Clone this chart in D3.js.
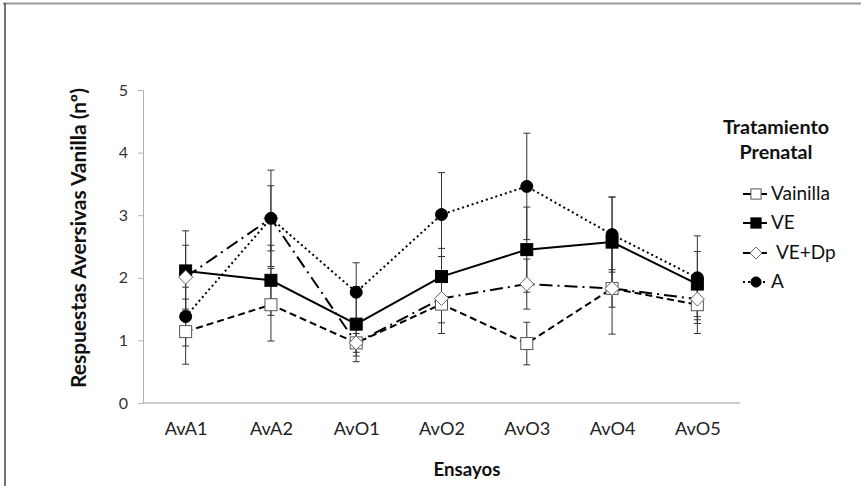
<!DOCTYPE html>
<html><head><meta charset="utf-8">
<script src="https://cdn.jsdelivr.net/npm/d3@7"></script>
<style>body{margin:0;background:#fff}svg{display:block}</style>
</head><body>
<script>
const categories = ["AvA1","AvA2","AvO1","AvO2","AvO3","AvO4","AvO5"];
const seriesNames = ["Vainilla","VE","VE+Dp","A"];
const vainilla = [1.14,1.57,0.96,1.58,0.95,1.83,1.57];
const vainillaErr = [0.52,0.58,0.15,0.47,0.34,0.73,0.46];
const ve = [2.11,1.96,1.26,2.02,2.45,2.57,1.90];
const veErr = [0.64,0.56,0.60,0.45,0.68,0.72,0.52];
const veDp = [2.01,2.95,0.96,1.67,1.90,1.83,1.66];
const veDpErr = [0.51,0.52,0.21,0.39,0.40,0.30,0.39];
const a = [1.38,2.95,1.77,3.01,3.46,2.69,2.00];
const aErr = [0.47,0.77,0.47,0.67,0.85,0.60,0.67];
const yTicks = [0,1,2,3,4,5];

const W=861,H=486;
const svg=d3.select("body").append("svg").attr("width",W).attr("height",H);
const font="Lato, 'Open Sans', sans-serif";

function fit(sel,target){
  const n=sel.node(); const fs=parseFloat(sel.attr("font-size"));
  const w=n.getComputedTextLength(); if(w>0) sel.attr("font-size",(fs*target/w).toFixed(2));
  return sel;
}

// frame
svg.append("line").attr("x1",3).attr("x2",W).attr("y1",3.5).attr("y2",3.5).attr("stroke","#9a9a9a").attr("stroke-width",2);
svg.append("line").attr("x1",5).attr("x2",5).attr("y1",3).attr("y2",H).attr("stroke","#444").attr("stroke-width",1.5);

const x=d3.scalePoint().domain(categories).range([143,740]).padding(0.5);
const y=d3.scaleLinear().domain([0,5]).range([403,90]);

// y axis
const yAxis=svg.append("g").attr("transform","translate(143,0)")
  .call(d3.axisLeft(y).tickValues(yTicks).tickSize(5).tickPadding(10).tickFormat(d3.format("d")));
yAxis.select(".domain").attr("stroke","#b0b0b0");
yAxis.selectAll(".tick line").attr("stroke","#b0b0b0");
yAxis.selectAll("text").attr("font-family",font).attr("font-size",16).attr("fill","#333");

// x axis
const xAxis=svg.append("g").attr("transform","translate(0,403)")
  .call(d3.axisBottom(x).tickSize(0).tickPadding(19).tickSizeOuter(0));
xAxis.select(".domain").attr("stroke","#c0c0c0").attr("stroke-width",1.5)
  .attr("d","M143,0H740");
xAxis.selectAll("text").attr("font-family",font).attr("font-size",17).attr("fill","#222");
fit(xAxis.select(".tick text"),43);
const cfs=xAxis.select(".tick text").attr("font-size");
xAxis.selectAll("text").attr("font-size",cfs);

// axis titles
fit(svg.append("text").attr("transform","translate(86,238) rotate(-90)").attr("text-anchor","middle")
  .attr("font-family",font).attr("font-weight","bold").attr("font-size",17).attr("fill","#111")
  .text("Respuestas Aversivas Vanilla (nº)"),300);
fit(svg.append("text").attr("x",467).attr("y",476).attr("text-anchor","middle")
  .attr("font-family",font).attr("font-weight","bold").attr("font-size",17).attr("fill","#111")
  .text("Ensayos"),67);

const series=[
  {name:"Vainilla",vals:vainilla,err:vainillaErr,dash:"7,4",shape:"square",fill:"#fff",mstroke:"#555"},
  {name:"VE",vals:ve,err:veErr,dash:null,shape:"square",fill:"#000",mstroke:"#000"},
  {name:"VE+Dp",vals:veDp,err:veDpErr,dash:"13,5,2,5",shape:"diamond",fill:"#fff",mstroke:"#666"},
  {name:"A",vals:a,err:aErr,dash:"2,3",shape:"circle",fill:"#000",mstroke:"#000"}
];

// error bars
series.forEach(s=>{
  const g=svg.append("g");
  categories.forEach((c,i)=>{
    const cx=x(c),lo=y(s.vals[i]-s.err[i]),hi=y(s.vals[i]+s.err[i]);
    g.append("line").attr("x1",cx).attr("x2",cx).attr("y1",lo).attr("y2",hi).attr("stroke","#333").attr("stroke-width",1);
    [lo,hi].forEach(yy=>g.append("line").attr("x1",cx-3.5).attr("x2",cx+3.5).attr("y1",yy).attr("y2",yy).attr("stroke","#333").attr("stroke-width",1));
  });
});

// lines
const line=d3.line().x((d,i)=>x(categories[i])).y(d=>y(d));
series.forEach(s=>{
  svg.append("path").attr("d",line(s.vals)).attr("fill","none").attr("stroke","#000")
    .attr("stroke-width",2).attr("stroke-dasharray",s.dash);
});

function marker(g,s,cx,cy,scale){
  scale=scale||1;
  if(s.shape==="square"){
    const h=6*scale;
    g.append("rect").attr("x",cx-h).attr("y",cy-h).attr("width",2*h).attr("height",2*h)
      .attr("fill",s.fill).attr("stroke",s.mstroke).attr("stroke-width",1);
  } else if(s.shape==="diamond"){
    const h=7*scale;
    g.append("path").attr("d",`M${cx},${cy-h}L${cx+h},${cy}L${cx},${cy+h}L${cx-h},${cy}Z`)
      .attr("fill",s.fill).attr("stroke",s.mstroke).attr("stroke-width",1);
  } else {
    g.append("circle").attr("cx",cx).attr("cy",cy).attr("r",6*scale).attr("fill",s.fill).attr("stroke",s.mstroke);
  }
}
series.forEach(s=>{
  const g=svg.append("g");
  categories.forEach((c,i)=>marker(g,s,x(c),y(s.vals[i])));
});

// legend
const t1=fit(svg.append("text").attr("x",776).attr("y",134).attr("text-anchor","middle")
  .attr("font-family",font).attr("font-weight","bold").attr("font-size",19).attr("fill","#111").text("Tratamiento"),106);
svg.append("text").attr("x",776).attr("y",159).attr("text-anchor","middle")
  .attr("font-family",font).attr("font-weight","bold").attr("font-size",t1.attr("font-size")).attr("fill","#111").text("Prenatal");
const legY=[194,223,253,282];
let lfs=null;
series.forEach((s,i)=>{
  const g=svg.append("g");
  const ly=legY[i];
  g.append("line").attr("x1",743).attr("x2",767).attr("y1",ly).attr("y2",ly).attr("stroke","#000")
    .attr("stroke-width",2).attr("stroke-dasharray",s.name==="A"?"2,3":null);
  marker(g,s,756,ly,0.85);
  const t=g.append("text").attr("x",s.name==="VE+Dp"?776:771).attr("y",ly+6).attr("font-family",font)
    .attr("font-size",lfs||18).attr("fill","#111").text(s.name);
  if(i===0){ fit(t,59); lfs=t.attr("font-size"); }
});
</script>
</body></html>
